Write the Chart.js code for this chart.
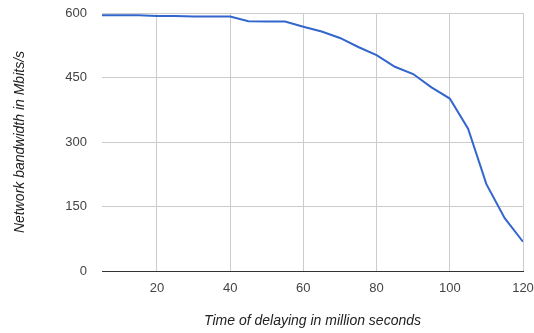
<!DOCTYPE html>
<html>
<head>
<meta charset="utf-8">
<script src="https://cdn.jsdelivr.net/npm/chart.js@4"></script>
<style>
  html, body { margin: 0; padding: 0; background: #fff; }
  #wrap { width: 534px; height: 333px; }
</style>
</head>
<body>
<div id="wrap"><canvas id="c"></canvas></div>
<script>
// time of delaying (million seconds) and bandwidth (Mbits/s)
var delay = [5, 10, 15, 20, 25, 30, 35, 40, 45, 50, 55, 60, 65, 70, 75, 80, 85, 90, 95, 100, 105, 110, 115, 120];
var bandwidth = [595, 595, 595, 593, 593, 592, 592, 592, 581, 580, 580, 568, 557, 542, 521, 502, 475, 458, 427, 401, 331, 202, 123, 68];
var xTicks = [20, 40, 60, 80, 100, 120];
var yTicks = [0, 150, 300, 450, 600];

var pts = [];
for (var i = 0; i < delay.length; i++) {
  pts.push({x: delay[i], y: bandwidth[i]});
}

var tickFont = {family: 'Arial, "Liberation Sans", sans-serif', size: 13};
var titleFont = {family: 'Arial, "Liberation Sans", sans-serif', size: 14, style: 'italic'};

var ctx = document.getElementById('c').getContext('2d');
var chart = new Chart(ctx, {
  type: 'line',
  data: {
    datasets: [{
      data: pts,
      borderColor: '#3366cc',
      borderWidth: 2,
      pointRadius: 0,
      tension: 0,
      fill: false
    }]
  },
  options: {
    responsive: true,
    maintainAspectRatio: false,
    animation: false,
    layout: {padding: {top: 13, right: 11, left: 0, bottom: 0}},
    plugins: {legend: {display: false}, tooltip: {enabled: false}},
    scales: {
      x: {
        type: 'linear',
        min: 5,
        max: 120,
        afterBuildTicks: function (s) { s.ticks = xTicks.map(function (v) { return {value: v}; }); },
        afterFit: function (s) { s.height = 62; s.paddingLeft = 0; s.paddingRight = 0; },
        grid: {color: '#cccccc', drawTicks: false},
        border: {display: true, color: '#333333', width: 1},
        ticks: {color: '#444444', font: tickFont, padding: 10, maxRotation: 0},
        title: {display: true, text: 'Time of delaying in million seconds', color: '#222222', font: titleFont, padding: {top: 3, bottom: 3}}
      },
      y: {
        min: 0,
        max: 600,
        afterBuildTicks: function (s) { s.ticks = yTicks.map(function (v) { return {value: v}; }); },
        afterFit: function (s) { s.width = 102; s.paddingTop = 0; s.paddingBottom = 0; },
        grid: {
          color: function (c) { return c.tick && c.tick.value === 0 ? '#333333' : '#cccccc'; },
          drawTicks: false
        },
        border: {display: false},
        ticks: {color: '#444444', font: tickFont, padding: 15},
        title: {display: true, text: 'Network bandwidth in Mbits/s', color: '#222222', font: titleFont, padding: {top: 12, bottom: 12}}
      }
    }
  }
});
</script>
</body>
</html>
